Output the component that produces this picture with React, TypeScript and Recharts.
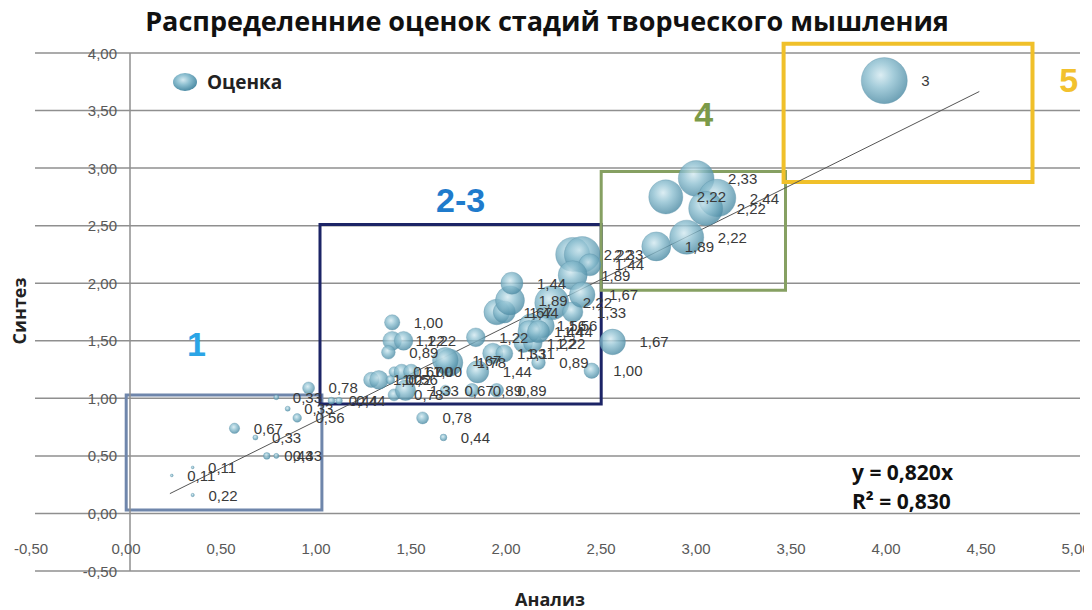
import React from 'react';
import {
  ScatterChart,
  Scatter,
  XAxis,
  YAxis,
  CartesianGrid,
  ReferenceLine,
  ReferenceArea,
  ReferenceDot,
} from 'recharts';

// Анализ (x), Синтез (y), оценка (размер пузырька и подпись)
const analysis = [
  0.22, 0.33, 0.33, 0.55, 0.66, 0.72, 0.77, 0.77, 0.83, 0.88, 0.94,
  1.06, 1.1, 1.39, 1.54, 1.65,
  1.38, 1.38, 1.44, 1.36, 1.39, 1.43, 1.48, 1.27, 1.31, 1.37,
  1.45, 1.66, 1.8, 1.93,
  1.68, 1.66, 1.83, 1.91, 1.97, 2.15, 2.43, 2.54, 2.07, 2.12, 1.82,
  1.93, 1.97, 2.0, 2.01, 2.22, 2.33, 2.11, 2.17, 2.1, 2.15,
  2.33, 2.38, 2.42, 2.33, 2.38,
  2.98, 2.82, 3.09, 3.03, 2.93, 2.77,
  3.97,
];
const synthesis = [
  0.33, 0.4, 0.16, 0.74, 0.66, 0.5, 0.5, 1.01, 0.91, 0.83, 1.09,
  0.98, 0.98, 1.03, 0.83, 0.66,
  1.66, 1.5, 1.5, 1.4, 1.23, 1.23, 1.23, 1.16, 1.16, 1.16,
  1.07, 1.07, 1.07, 1.07,
  1.31, 1.33, 1.23, 1.39, 1.39, 1.31, 1.24, 1.49, 1.48, 1.48, 1.53,
  1.75, 1.75, 1.85, 2.0, 1.83, 1.75, 1.63, 1.63, 1.58, 1.58,
  2.25, 2.25, 2.16, 2.07, 1.9,
  2.91, 2.75, 2.74, 2.65, 2.4, 2.32,
  3.76,
];
const scores = [
  0.11, 0.11, 0.22, 0.67, 0.33, 0.44, 0.33, 0.33, 0.33, 0.56, 0.78,
  0.44, 0.44, 0.78, 0.78, 0.44,
  1.0, 1.22, 1.22, 0.89, 0.67, 1.0, 1.0, 1.0, 1.22, 0.56,
  1.33, 0.67, 0.89, 0.89,
  1.78, 1.67, 1.44, 1.33, 1.11, 0.89, 1.0, 1.67, 1.22, 1.22, 1.22,
  1.67, 1.44, 1.89, 1.44, 2.22, 1.33, 1.56, 1.56, 1.44, 1.44,
  2.22, 2.33, 1.44, 1.89, 1.67,
  2.33, 2.22, 2.44, 2.22, 2.22, 1.89,
  3,
];

const xTicks = [-0.5, 0, 0.5, 1, 1.5, 2, 2.5, 3, 3.5, 4, 4.5, 5];
const yTicks = [-0.5, 0, 0.5, 1, 1.5, 2, 2.5, 3, 3.5, 4];

// линия тренда y = 0,820x
const trendSlope = 0.82;
const trendFrom = 0.21;
const trendTo = 4.47;

// зоны стадий
const zones = [
  { name: '1', x1: -0.02, x2: 1.01, y1: 0.03, y2: 1.03, color: '#6f86ab', labelColor: '#2ba5e6', lx: 0.35, ly: 1.47 },
  { name: '2-3', x1: 1.0, x2: 2.48, y1: 0.95, y2: 2.51, color: '#1c2466', labelColor: '#1f7bcc', lx: 1.74, ly: 2.72 },
  { name: '4', x1: 2.48, x2: 3.45, y1: 1.94, y2: 2.97, color: '#86a062', labelColor: '#7b9a48', lx: 3.02, ly: 3.47 },
  { name: '5', x1: 3.44, x2: 4.75, y1: 2.88, y2: 4.08, color: '#f0c02a', labelColor: '#f2c12e', lx: 4.94, ly: 3.77 },
];

const points = analysis.map((x, i) => ({ x, y: synthesis[i], score: scores[i] }));

const BUBBLE_PX = 7.67; // радиус на единицу оценки

const num = (v: number) => v.toFixed(2).replace('.', ',');
// в исходнике самый крупный пузырёк подписан просто «3»
const scoreText = (v: number) => (v >= 3 ? String(v) : num(v));
const radius = (s: number) => Math.max(1.4, s * BUBBLE_PX);

const Bubble = (props: any) => {
  const { cx, cy, payload } = props;
  if (cx == null || cy == null) return null;
  return (
    <circle
      cx={cx}
      cy={cy}
      r={radius(payload.score)}
      fill="url(#bubbleFill)"
      fillOpacity={0.8}
      stroke="#5c93a8"
      strokeOpacity={0.35}
    />
  );
};

const BubbleLabel = (props: any) => {
  const { cx, cy, payload } = props;
  if (cx == null || cy == null) return null;
  return (
    <text
      x={cx + radius(payload.score) + 14}
      y={cy}
      dominantBaseline="central"
      fontSize={15}
      fontFamily="'Liberation Sans', Arial, sans-serif"
      fill="#3a3a3a"
    >
      {scoreText(payload.score)}
    </text>
  );
};

const XTick = (props: any) => (
  <text
    x={props.x - 4}
    y={540}
    textAnchor="middle"
    dominantBaseline="central"
    style={{ fontSize: 15 }}
    fontFamily="'Liberation Sans', Arial, sans-serif"
    fill="#595959"
  >
    {num(props.payload.value)}
  </text>
);

const YTick = (props: any) => (
  <text
    x={109}
    y={props.y}
    textAnchor="end"
    dominantBaseline="central"
    style={{ fontSize: 15 }}
    fontFamily="'Liberation Sans', Arial, sans-serif"
    fill="#595959"
  >
    {num(props.payload.value)}
  </text>
);

const boldFont = "'Open Sans', 'Liberation Sans', sans-serif";

export default function App() {
  return (
    <div style={{ position: 'relative', width: 1084, height: 600, background: '#fff' }}>
      <ScatterChart width={1084} height={600} margin={{ top: 45, right: 12, bottom: 36, left: 26 }}>
        <defs>
          <radialGradient id="bubbleFill" cx="42%" cy="38%" r="62%">
            <stop offset="0%" stopColor="#d3e9f0" />
            <stop offset="45%" stopColor="#8ec0d1" />
            <stop offset="100%" stopColor="#4d8ca5" />
          </radialGradient>
        </defs>
        <CartesianGrid vertical={false} stroke="#8f8f8f" strokeWidth={1.5} />
        <XAxis
          type="number"
          dataKey="x"
          domain={[-0.5, 5]}
          ticks={xTicks}
          height={1}
          axisLine={false}
          tickLine={false}
          tick={<XTick />}
          interval={0}
          allowDataOverflow
        />
        <YAxis
          type="number"
          dataKey="y"
          domain={[-0.5, 4]}
          ticks={yTicks}
          width={1}
          axisLine={false}
          tickLine={false}
          tick={<YTick />}
          interval={0}
          allowDataOverflow
        />
        <ReferenceLine x={0} stroke="#8f8f8f" strokeWidth={1.5} />
        <Scatter data={points} shape={<Bubble />} isAnimationActive={false} />
        {zones.map((z) => (
          <ReferenceArea
            key={z.name}
            x1={z.x1}
            x2={z.x2}
            y1={z.y1}
            y2={z.y2}
            fill="none"
            stroke={z.color}
            strokeWidth={z.name === '5' ? 4 : 3}
            ifOverflow="visible"
          />
        ))}
        <ReferenceLine
          segment={[
            { x: trendFrom, y: trendSlope * trendFrom },
            { x: trendTo, y: trendSlope * trendTo },
          ]}
          stroke="#555"
          strokeWidth={1}
          ifOverflow="visible"
        />
        <Scatter data={points} shape={<BubbleLabel />} isAnimationActive={false} legendType="none" />
        {zones.map((z) => (
          <ReferenceDot
            key={'l' + z.name}
            x={z.lx}
            y={z.ly}
            r={0}
            fill="none"
            stroke="none"
            ifOverflow="visible"
            label={{
              value: z.name,
              position: 'center',
              fill: z.labelColor,
              fontSize: 34,
              fontWeight: 800,
              fontFamily: "'Liberation Sans', Arial, sans-serif",
            }}
          />
        ))}
      </ScatterChart>

      <div
        style={{
          position: 'absolute',
          top: -3,
          left: -3,
          width: 1084,
          textAlign: 'center',
          fontFamily: boldFont,
          fontWeight: 700,
          fontSize: 27,
          lineHeight: '32px',
          color: '#111',
        }}
      >
        Распределенние оценок стадий творческого мышления
      </div>

      <div
        style={{
          position: 'absolute',
          top: 61,
          left: 164,
          display: 'flex',
          alignItems: 'center',
          fontFamily: boldFont,
          fontWeight: 700,
          fontSize: 19,
          color: '#222',
        }}
      >
        <svg width={26} height={26} style={{ marginRight: 9 }}>
          <defs>
            <radialGradient id="legendFill" cx="42%" cy="38%" r="62%">
              <stop offset="0%" stopColor="#d3e9f0" />
              <stop offset="45%" stopColor="#8ec0d1" />
              <stop offset="100%" stopColor="#4d8ca5" />
            </radialGradient>
          </defs>
          <ellipse cx={13} cy={13} rx={12} ry={9} fill="url(#legendFill)" />
        </svg>
        Оценка
      </div>

      <div
        style={{
          position: 'absolute',
          top: 450,
          left: 844,
          fontFamily: boldFont,
          fontWeight: 700,
          fontSize: 21,
          lineHeight: '29px',
          color: '#111',
        }}
      >
        <div>y = 0,820x</div>
        <div>R² = 0,830</div>
      </div>

      <div
        style={{
          position: 'absolute',
          top: 579,
          left: 0,
          width: 1084,
          textAlign: 'center',
          fontFamily: boldFont,
          fontWeight: 700,
          fontSize: 18,
          color: '#222',
        }}
      >
        Анализ
      </div>

      <div
        style={{
          position: 'absolute',
          left: 11,
          top: 303,
          transform: 'translate(-50%, -50%) rotate(-90deg)',
          fontFamily: boldFont,
          fontWeight: 700,
          fontSize: 18,
          color: '#222',
          whiteSpace: 'nowrap',
        }}
      >
        Синтез
      </div>
    </div>
  );
}
